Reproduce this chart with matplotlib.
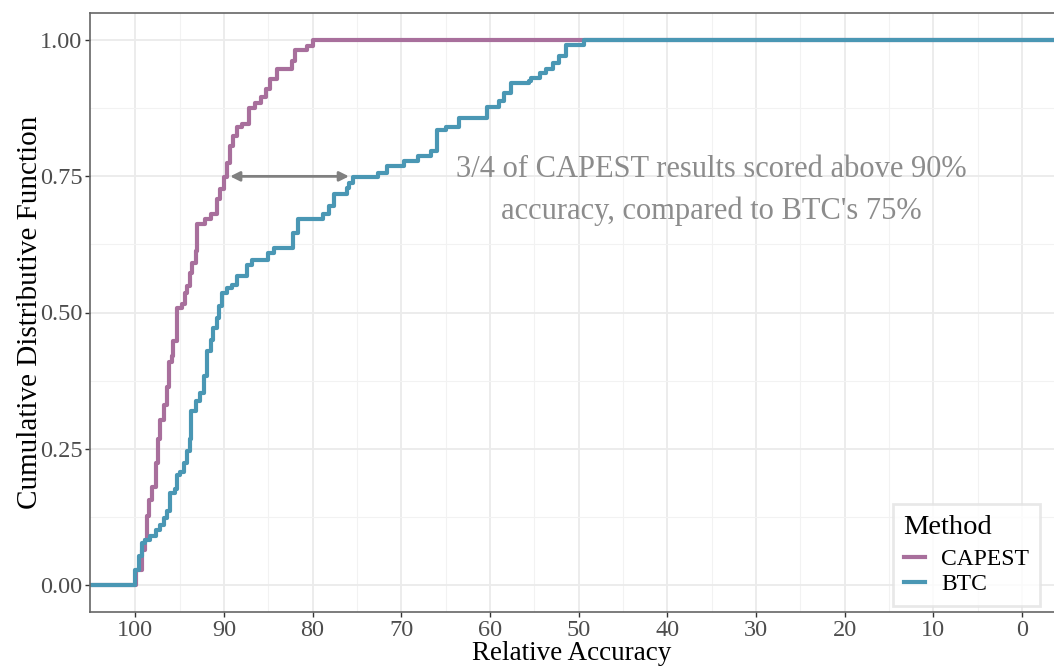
import numpy as np
import matplotlib.pyplot as plt
from matplotlib.lines import Line2D

plt.rcParams['font.family'] = ['Liberation Serif', 'DejaVu Serif']

METHODS = ["CAPEST", "BTC"]
METHOD_COLORS = ["#a86f9c", "#4a97b4"]

# step positions (relative accuracy) and cumulative fraction after each step
capest_acc = [99.9, 99.2, 98.9, 98.7, 98.4, 98.1, 97.7, 97.4, 97.2, 96.8,
              96.4, 96.2, 95.9, 95.7, 95.3, 94.7, 94.4, 94.2, 93.8, 93.6,
              93.2, 93.0, 92.1, 91.5, 90.8, 90.4, 90.0, 89.7, 89.3, 89.0,
              88.5, 88.0, 87.2, 86.5, 85.8, 85.3, 84.8, 84.0, 82.3, 82.0,
              80.6, 79.9]
capest_cdf = [0.028, 0.064, 0.083, 0.126, 0.156, 0.18, 0.224, 0.267, 0.303, 0.331,
              0.364, 0.41, 0.42, 0.447, 0.509, 0.515, 0.536, 0.548, 0.573, 0.59,
              0.613, 0.662, 0.671, 0.68, 0.708, 0.726, 0.748, 0.775, 0.806, 0.825,
              0.84, 0.846, 0.876, 0.885, 0.895, 0.91, 0.928, 0.947, 0.962, 0.982,
              0.99, 1.0]

btc_acc = [100.0, 99.6, 99.2, 98.9, 98.3, 97.7, 97.2, 96.8, 96.4, 96.05,
           95.5, 95.3, 94.9, 94.55, 94.2, 93.8, 93.7, 93.2, 92.7, 92.2,
           91.9, 91.5, 91.2, 90.8, 90.5, 90.2, 89.7, 89.1, 88.5, 87.4,
           86.85, 85.0, 84.4, 82.2, 81.6, 78.8, 78.2, 77.6, 76.1, 75.9,
           75.4, 72.6, 71.6, 69.7, 68.1, 66.6, 66.0, 65.0, 63.5, 60.3,
           59.0, 58.4, 57.6, 55.6, 55.4, 54.4, 53.7, 52.9, 52.2, 51.4,
           49.4]
btc_cdf = [0.028, 0.052, 0.077, 0.083, 0.089, 0.10, 0.11, 0.122, 0.135, 0.169,
           0.175, 0.202, 0.208, 0.224, 0.245, 0.267, 0.32, 0.337, 0.353, 0.383,
           0.429, 0.45, 0.472, 0.49, 0.512, 0.536, 0.545, 0.551, 0.567, 0.588,
           0.597, 0.61, 0.619, 0.646, 0.671, 0.68, 0.695, 0.717, 0.729, 0.738,
           0.748, 0.757, 0.769, 0.778, 0.787, 0.797, 0.836, 0.841, 0.858, 0.878,
           0.888, 0.904, 0.921, 0.925, 0.931, 0.94, 0.948, 0.958, 0.971, 0.991,
           1.0]

x_ticks = [100, 90, 80, 70, 60, 50, 40, 30, 20, 10, 0]
x_minor = [95, 85, 75, 65, 55, 45, 35, 25, 15, 5]
y_ticks = [0.0, 0.25, 0.5, 0.75, 1.0]
y_minor = [0.125, 0.375, 0.625, 0.875]

note = "3/4 of CAPEST results scored above 90%\naccuracy, compared to BTC's 75%"
arrow_from, arrow_to, arrow_level = 89.3, 75.9, 0.75
note_x, note_y = 35, 0.724


fig = plt.figure(figsize=(10.54, 6.66), dpi=100)
ax = fig.add_axes([90 / 1054, 54 / 666, 964 / 1054, 599 / 666])
ax.set_xlim(105.1, -3.6)
ax.set_ylim(-0.05, 1.05)

ax.set_xticks(x_ticks)
ax.set_xticks(x_minor, minor=True)
ax.set_yticks(y_ticks)
ax.set_yticks(y_minor, minor=True)
ax.set_yticklabels([f"{v:.2f}" for v in y_ticks])
ax.grid(which='major', color='#ebebeb', lw=1.3)
ax.grid(which='minor', color='#f2f2f2', lw=0.8)
ax.set_axisbelow(True)
ax.tick_params(which='major', length=3.5, width=1, color='#333333',
               labelsize=17.5, labelcolor='#4d4d4d', pad=2)
ax.tick_params(which='minor', length=0)
for side in ['left', 'bottom', 'top']:
    ax.spines[side].set_color('#666666')
    ax.spines[side].set_linewidth(1.2)
ax.spines['right'].set_visible(False)

lo, hi = ax.get_xlim()
for name, color, xs, ys in zip(METHODS, METHOD_COLORS,
                               [capest_acc, btc_acc], [capest_cdf, btc_cdf]):
    ax.step(np.r_[lo, xs, hi], np.r_[0, ys, 1], where='post',
            color=color, lw=3, label=name)

ax.annotate("", xy=(arrow_to, arrow_level), xytext=(arrow_from, arrow_level),
            arrowprops=dict(arrowstyle='<|-|>', color='#808080', lw=2,
                            mutation_scale=14, shrinkA=0, shrinkB=0))
ax.text(note_x, note_y, note, color='#8c8c8c', fontsize=22,
        ha='center', va='center', linespacing=1.55)

ax.set_xlabel("Relative Accuracy", fontsize=19.5, labelpad=0.5)
ax.set_ylabel("Cumulative Distributive Function", fontsize=21, labelpad=-2.5)

handles = [Line2D([], [], color=c, lw=3) for c in METHOD_COLORS]
leg = ax.legend(handles, METHODS, title="Method", loc='lower right',
                bbox_to_anchor=(0.9855, 0.01), borderaxespad=0,
                fontsize=17, title_fontsize=20.5,
                frameon=True, fancybox=False, edgecolor='#e3e3e3',
                handlelength=0.9, handletextpad=0.7, labelspacing=0.15,
                borderpad=0.45)
leg.get_frame().set_linewidth(2)
leg._legend_box.align = "left"
leg._legend_box.sep = 6.5

fig.savefig("out.png", dpi=100)
